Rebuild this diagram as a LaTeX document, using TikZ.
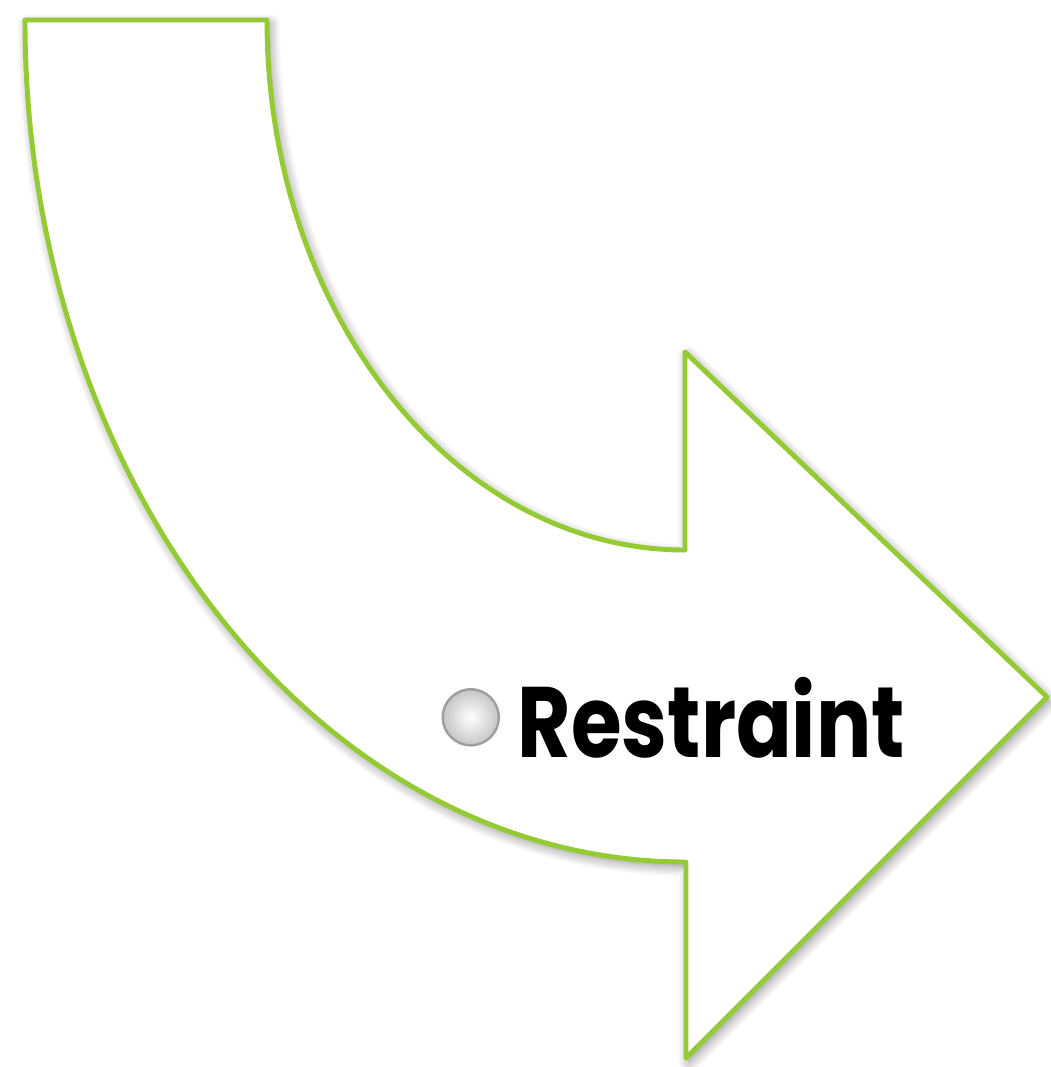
\documentclass[tikz,border=0pt]{standalone}
\usepackage{fontspec}
\usepackage{tikz}
\usetikzlibrary{positioning,shadows.blur}
\newfontfamily\wordfont{Poppins}

\begin{document}
\begin{tikzpicture}[x=1cm,y=1cm]
  \definecolor{bandgreen}{RGB}{148,202,52}
  \tikzset{
    band/.style={draw=bandgreen,line width=1.4pt,line join=round,fill=white,
      blur shadow={shadow xshift=0.8pt,shadow yshift=-1.2pt,shadow blur radius=3pt,shadow blur steps=10,shadow opacity=45}},
    bullet/.style={circle,inner sep=0pt,minimum size=0.56cm,inner color=white,outer color=gray!45,draw=gray!75,line width=0.7pt},
    word/.style={inner sep=0pt,font=\wordfont\bfseries\fontsize{28.5}{30}\selectfont}}
  \useasboundingbox (0,0) rectangle (10.51,-10.67);

  % the bent arrow
  \path[band] (0.25,-0.20) -- (2.67,-0.20)
    arc[x radius=4.18,y radius=5.30,start angle=180,end angle=270]
    -- (6.85,-3.52) -- (10.47,-6.97) -- (6.86,-10.58) -- (6.86,-8.62)
    arc[x radius=6.61,y radius=8.42,start angle=270,end angle=180] -- cycle;

  % the label
  \node[word,anchor=base west] (restraint) at (5.17,-7.57) {\scalebox{0.82}[1]{Restraint}};
  \node[bullet,left=0.17 of restraint] (dot) {};
\end{tikzpicture}
\end{document}
